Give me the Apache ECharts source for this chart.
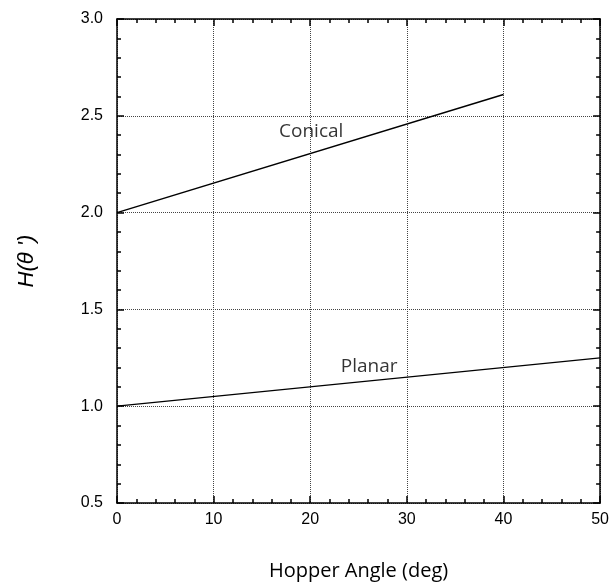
<!DOCTYPE html>
<html><head><meta charset="utf-8">
<script src="https://cdn.jsdelivr.net/npm/echarts@6/dist/echarts.min.js"></script>
<style>html,body{margin:0;padding:0;background:#fff}#c{width:612px;height:586px}</style>
</head><body><div id="c"></div>
<script>
var conicalX = [0, 40];
var conicalY = [2.0, 2.61];
var planarX = [0, 50];
var planarY = [1.0, 1.25];
var xTicks = [0, 10, 20, 30, 40, 50];
var yTicks = [0.5, 1.0, 1.5, 2.0, 2.5, 3.0];
var labelText = ['Conical', 'Planar'];
var labelX = [20.1, 26.1];
var labelY = [2.42, 1.205];

function zip(a, b) { return a.map(function (v, i) { return [v, b[i]]; }); }
function axisLine() { return {show: true, onZero: false, lineStyle: {color: '#000', width: 1.5}}; }
function split() { return {show: true, lineStyle: {color: '#444', type: [1, 1], width: 1}}; }
function tick() { return {show: true, inside: true, length: 7, lineStyle: {color: '#000', width: 1.5}}; }
function minorTick() { return {show: true, splitNumber: 5, length: 4, lineStyle: {color: '#000', width: 1.5}}; }

var chart = echarts.init(document.getElementById('c'));

chart.setOption({
  animation: false,
  grid: {left: 117, top: 19, right: 11, bottom: 82},
  xAxis: [{
    type: 'value', min: xTicks[0], max: xTicks[xTicks.length - 1], interval: 10,
    axisLine: axisLine(), axisTick: tick(), minorTick: minorTick(), splitLine: split(),
    axisLabel: {margin: 9, fontFamily: 'Liberation Sans', fontSize: 16, color: '#000'},
    name: 'Hopper Angle (deg)', nameLocation: 'middle', nameGap: 58,
    nameTextStyle: {fontFamily: 'Open Sans', fontSize: 20, color: '#000'}
  }, {
    type: 'value', min: xTicks[0], max: xTicks[xTicks.length - 1], interval: 10, position: 'top',
    axisLine: axisLine(), axisTick: tick(), minorTick: minorTick(), splitLine: {show: false},
    axisLabel: {show: false}
  }],
  yAxis: [{
    type: 'value', min: yTicks[0], max: yTicks[yTicks.length - 1], interval: 0.5,
    axisLine: axisLine(), axisTick: tick(), minorTick: minorTick(), splitLine: split(),
    axisLabel: {margin: 14, fontFamily: 'Liberation Sans', fontSize: 16, color: '#000',
      formatter: function (v) { return v.toFixed(1); }},
    name: 'H(θ \')', nameLocation: 'middle', nameGap: 79, nameRotate: 90,
    nameTextStyle: {fontFamily: 'Liberation Sans', fontSize: 22, fontStyle: 'italic', color: '#000'}
  }, {
    type: 'value', min: yTicks[0], max: yTicks[yTicks.length - 1], interval: 0.5, position: 'right',
    axisLine: axisLine(), axisTick: tick(), minorTick: minorTick(), splitLine: {show: false},
    axisLabel: {show: false}
  }],
  series: [{
    type: 'line', data: zip(conicalX, conicalY), symbol: 'none',
    lineStyle: {color: '#000', width: 1.5}
  }, {
    type: 'line', data: zip(planarX, planarY), symbol: 'none',
    lineStyle: {color: '#000', width: 1.2}
  }, {
    type: 'scatter', symbolSize: 0, silent: true,
    data: labelText.map(function (t, i) { return {value: [labelX[i], labelY[i]], name: t}; }),
    label: {show: true, position: 'inside', formatter: '{b}', fontFamily: 'Open Sans', fontSize: 19, color: '#000', align: 'center', verticalAlign: 'middle'}
  }]
});
</script></body></html>
